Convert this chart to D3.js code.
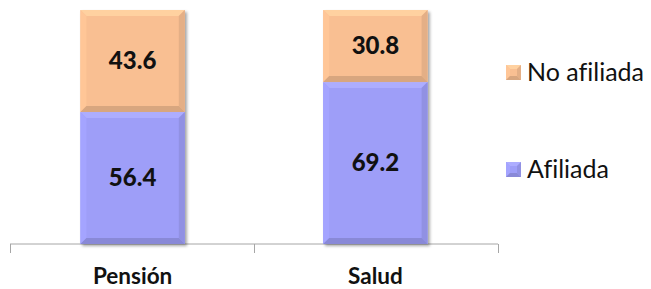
<!DOCTYPE html>
<html>
<head>
<meta charset="utf-8">
<script src="https://cdn.jsdelivr.net/npm/d3@7"></script>
<style>
body { margin: 0; background: #fff; }
text { font-family: Lato, "Open Sans", sans-serif; font-variant-ligatures: none; }
</style>
</head>
<body>
<svg id="chart" width="651" height="289"></svg>
<script>
var categories = ["Pensión", "Salud"];
var afiliada = [56.4, 69.2];
var noAfiliada = [43.6, 30.8];
var seriesNames = ["Afiliada", "No afiliada"];
var seriesColors = ["#9e9ef8", "#f9bf92"];

var svg = d3.select("#chart");

var defs = svg.append("defs");
var f = defs.append("filter").attr("id", "shadow")
    .attr("x", "-10%").attr("y", "-10%").attr("width", "130%").attr("height", "130%");
f.append("feDropShadow").attr("dx", 2).attr("dy", 2).attr("stdDeviation", 1.5)
    .attr("flood-color", "#000").attr("flood-opacity", 0.35);

var x = d3.scaleBand().domain(categories).range([10, 498]).paddingInner(0.57).paddingOuter(0.29);
var y = d3.scaleLinear().domain([0, 100]).range([244, 10]);

// axis
var axis = svg.append("g");
axis.append("line").attr("x1", 10).attr("x2", 498).attr("y1", 244).attr("y2", 244)
    .attr("stroke", "#a6a6a6").attr("stroke-width", 1);
var tickXs = [10, 254, 498];
axis.selectAll("line.tick").data(tickXs).enter().append("line")
    .attr("class", "tick")
    .attr("x1", function(d) { return d + 0.5; }).attr("x2", function(d) { return d + 0.5; })
    .attr("y1", 244).attr("y2", 253)
    .attr("stroke", "#a6a6a6");

function bevel(g, x0, y0, w, h, color, b) {
    b = b || 6;
    var c = d3.color(color);
    var grp = g.append("g");
    grp.append("rect").attr("x", x0).attr("y", y0).attr("width", w).attr("height", h).attr("fill", c);
    var pts = function(a) { return a.map(function(p) { return p.join(","); }).join(" "); };
    grp.append("polygon").attr("fill", c.brighter(0.25))
        .attr("points", pts([[x0, y0], [x0 + w, y0], [x0 + w - b, y0 + b], [x0 + b, y0 + b]]));
    grp.append("polygon").attr("fill", c.brighter(0.1))
        .attr("points", pts([[x0, y0], [x0 + b, y0 + b], [x0 + b, y0 + h - b], [x0, y0 + h]]));
    grp.append("polygon").attr("fill", c.darker(0.25))
        .attr("points", pts([[x0 + w, y0], [x0 + w, y0 + h], [x0 + w - b, y0 + h - b], [x0 + w - b, y0 + b]]));
    grp.append("polygon").attr("fill", c.darker(0.4))
        .attr("points", pts([[x0, y0 + h], [x0 + b, y0 + h - b], [x0 + w - b, y0 + h - b], [x0 + w, y0 + h]]));
}

var bars = svg.append("g");
categories.forEach(function(cat, i) {
    var bx = x(cat), bw = x.bandwidth();
    var g = bars.append("g").attr("filter", "url(#shadow)");
    var yA = y(afiliada[i]);
    bevel(g, bx, yA, bw, y(0) - yA, seriesColors[0]);
    var yN = y(afiliada[i] + noAfiliada[i]);
    bevel(g, bx, yN, bw, yA - yN, seriesColors[1]);
    bars.append("text").attr("x", bx + bw / 2).attr("y", (yA + y(0)) / 2)
        .attr("text-anchor", "middle").attr("dy", "0.35em")
        .attr("font-size", 24).attr("font-weight", 900).attr("fill", "#111")
        .text(afiliada[i].toFixed(1));
    bars.append("text").attr("x", bx + bw / 2).attr("y", (yN + yA) / 2)
        .attr("text-anchor", "middle").attr("dy", "0.35em")
        .attr("font-size", 24).attr("font-weight", 900).attr("fill", "#111")
        .text(noAfiliada[i].toFixed(1));
});

svg.append("g").selectAll("text").data(categories).enter().append("text")
    .attr("x", function(d) { return x(d) + x.bandwidth() / 2; })
    .attr("y", 284)
    .attr("text-anchor", "middle").attr("font-size", 22.5).attr("font-weight", "bold")
    .attr("fill", "#111")
    .text(function(d) { return d; });

// legend
var legendItems = [{ name: seriesNames[1], color: seriesColors[1], y: 72 },
                   { name: seriesNames[0], color: seriesColors[0], y: 169 }];
var leg = svg.append("g");
legendItems.forEach(function(d) {
    var g = leg.append("g");
    bevel(g, 506, d.y - 7, 15, 15, d.color, 4);
    leg.append("text").attr("x", 527).attr("y", d.y + 9)
        .attr("font-size", 25).attr("fill", "#111").text(d.name);
});
</script>
</body>
</html>
